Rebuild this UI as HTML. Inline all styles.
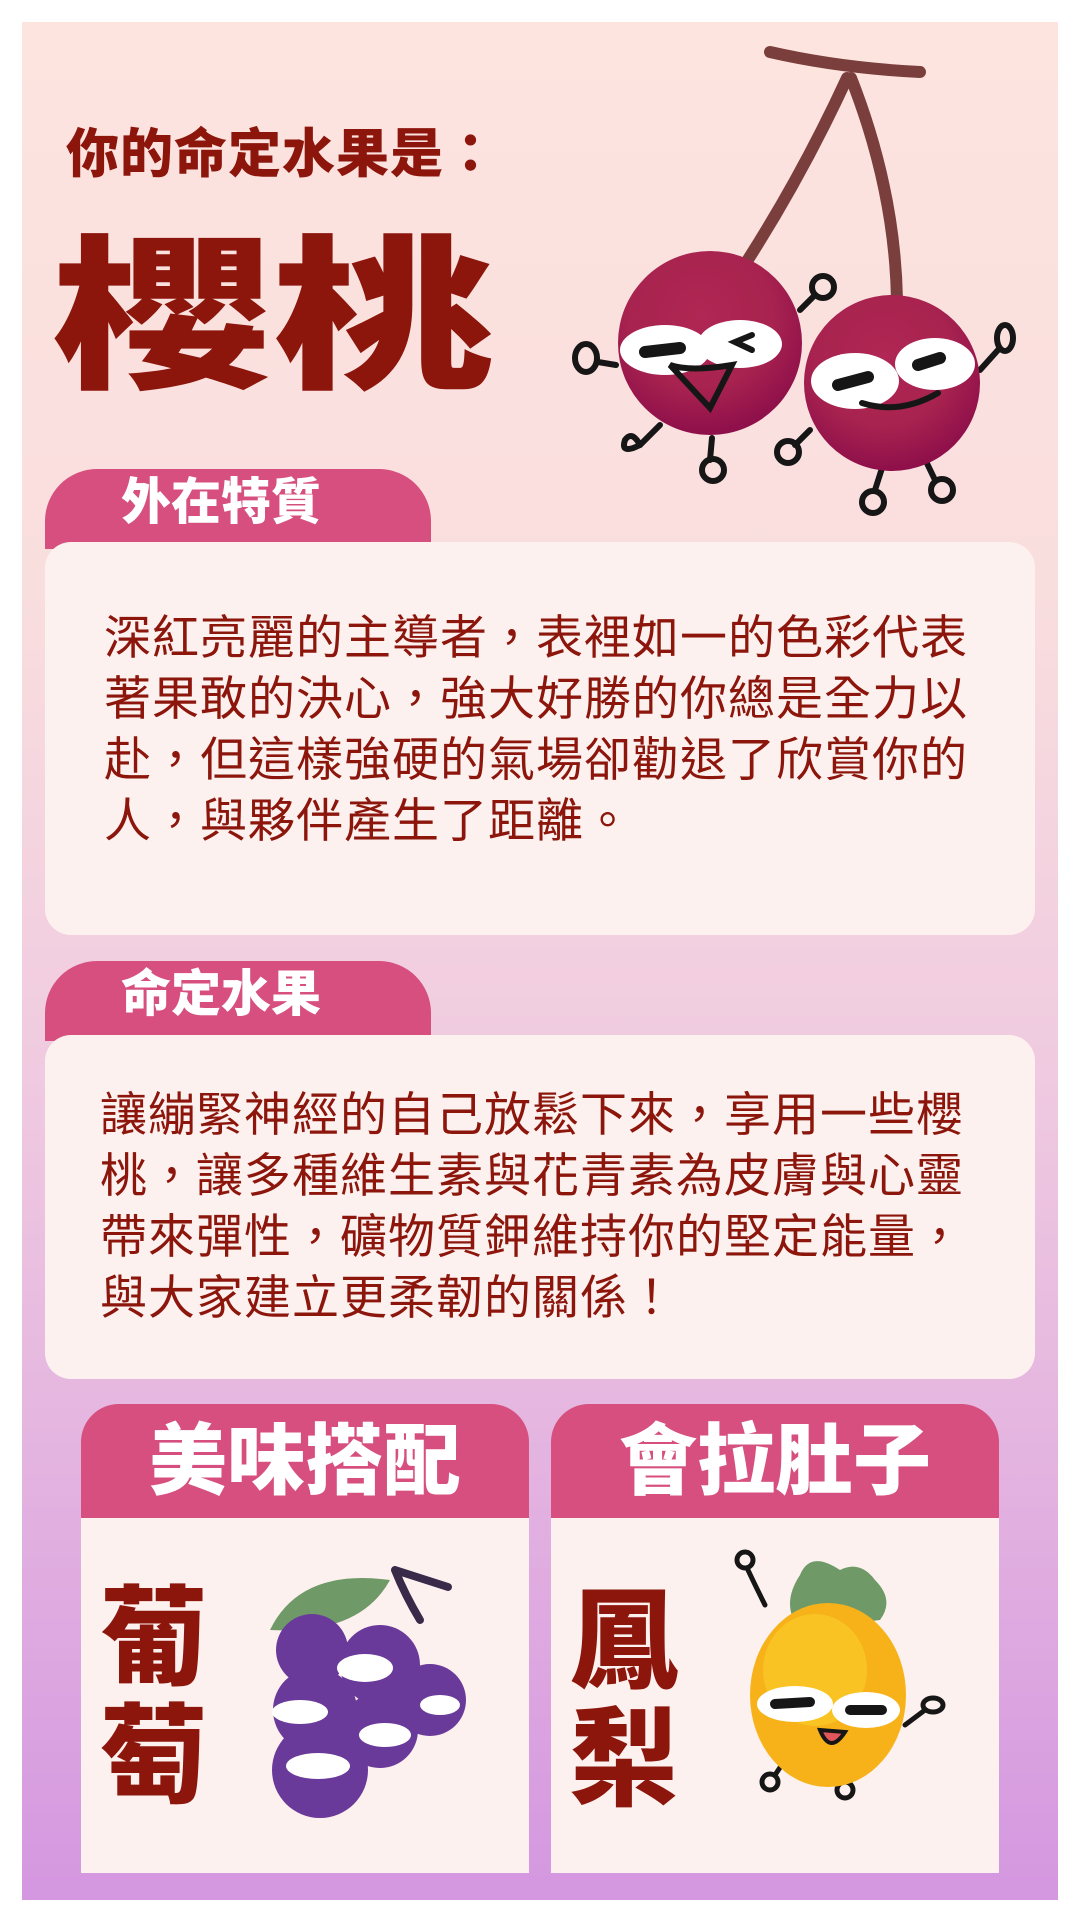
<!DOCTYPE html>
<html><head><meta charset="utf-8">
<style>
*{margin:0;padding:0;box-sizing:border-box}
body{width:1080px;height:1920px;background:#fff;position:relative;overflow:hidden;font-family:"Liberation Sans","Noto Sans CJK TC",sans-serif}
.abs{position:absolute}
#panel{left:22px;top:22px;width:1036px;height:1878px;background:linear-gradient(180deg,#fde4df 0%,#f9dede 30%,#f0cbe0 55%,#e3b2e0 78%,#d497e0 100%)}
.dark{color:#8c160c}
.tab{background:#d64f7e;color:#fff;font-weight:900;border-radius:52px 52px 0 0;white-space:nowrap}
.card{background:#fdf1ef;border-radius:26px}
.body{font-size:47px;line-height:61px;color:#8c160c;letter-spacing:1px}
</style></head>
<body>
<div id="panel" class="abs"></div>

<div class="abs dark" style="left:66px;top:112px;font-size:53px;font-weight:900;letter-spacing:1px">你的命定水果是：</div>
<div class="abs dark" style="left:52px;top:236px;font-size:166px;line-height:166px;font-weight:900;white-space:nowrap;transform:scaleX(1.33);transform-origin:0 0">櫻桃</div>

<svg class="abs" style="left:0;top:0" width="1080" height="560">
 <defs>
  <radialGradient id="cg" cx="45%" cy="35%" r="65%"><stop offset="0" stop-color="#b02654"/><stop offset="0.6" stop-color="#a8234f"/><stop offset="1" stop-color="#8e0f4a"/></radialGradient>
 </defs>
 <g fill="none" stroke="#7a3e3c" stroke-width="12" stroke-linecap="round">
  <path d="M770 52 Q840 68 920 72"/>
  <path d="M847 78 Q800 180 740 272"/>
  <path d="M851 78 Q895 190 897 300"/>
 </g>
 <g fill="none" stroke="#161616" stroke-width="6" stroke-linecap="round">
  <path d="M800 310 L815 295"/><circle cx="823" cy="287" r="11"/>
  <path d="M616 365 L598 362"/><ellipse cx="586" cy="358" rx="11" ry="14"/>
  <path d="M660 425 L640 445"/><path d="M640 445 Q620 455 625 440 Q632 430 640 445"/>
  <path d="M712 438 L710 460"/><circle cx="713" cy="470" r="11"/>
  <path d="M810 430 L795 445"/><circle cx="788" cy="452" r="11"/>
  <path d="M980 370 L998 350"/><ellipse cx="1005" cy="338" rx="8" ry="13"/>
  <path d="M883 465 L875 490"/><circle cx="873" cy="502" r="11"/>
  <path d="M923 455 L935 480"/><circle cx="942" cy="490" r="11"/>
 </g>
 <circle cx="710" cy="343" r="92" fill="url(#cg)"/>
 <circle cx="892" cy="383" r="88" fill="url(#cg)"/>
 <g fill="#fff">
  <ellipse cx="665" cy="350" rx="45" ry="25"/><ellipse cx="740" cy="344" rx="42" ry="24"/>
  <ellipse cx="855" cy="381" rx="44" ry="28"/><ellipse cx="935" cy="364" rx="40" ry="26"/>
 </g>
 <g fill="none" stroke="#161616" stroke-width="12" stroke-linecap="round">
  <path d="M645 352 L680 348"/><path d="M838 385 L868 377"/><path d="M918 365 L940 358"/>
 </g>
 <g fill="none" stroke="#161616" stroke-width="6" stroke-linecap="round">
  <path d="M752 335 L735 342 L752 350"/>
  <path d="M670 365 Q690 372 732 365 L710 408 Z"/>
  <path d="M862 403 Q900 415 938 393"/>
 </g>
</svg>

<div class="abs tab" style="left:45px;top:469px;width:386px;height:80px;font-size:50px;line-height:50px;padding:8px 0 0 76px">外在特質</div>
<div class="abs card" style="left:45px;top:542px;width:990px;height:393px"></div>
<div class="abs body" style="left:104px;top:607px;width:880px">深紅亮麗的主導者，表裡如一的色彩代表<br>著果敢的決心，強大好勝的你總是全力以<br>赴，但這樣強硬的氣場卻勸退了欣賞你的<br>人，與夥伴產生了距離。</div>

<div class="abs tab" style="left:45px;top:961px;width:386px;height:80px;font-size:50px;line-height:50px;padding:8px 0 0 76px">命定水果</div>
<div class="abs card" style="left:45px;top:1035px;width:990px;height:344px"></div>
<div class="abs body" style="left:100px;top:1084px;width:880px">讓繃緊神經的自己放鬆下來，享用一些櫻<br>桃，讓多種維生素與花青素為皮膚與心靈<br>帶來彈性，礦物質鉀維持你的堅定能量，<br>與大家建立更柔韌的關係！</div>

<div class="abs tab" style="left:81px;top:1404px;width:448px;height:115px;border-radius:38px 38px 0 0;font-size:78px;line-height:78px;text-align:center;padding-top:18px">美味搭配</div>
<div class="abs" style="left:81px;top:1518px;width:448px;height:355px;background:#fdf1ef"></div>
<div class="abs dark" style="left:100px;top:1580px;font-size:108px;line-height:118px;font-weight:900;width:110px">葡<br>萄</div>

<div class="abs tab" style="left:551px;top:1404px;width:448px;height:115px;border-radius:38px 38px 0 0;font-size:78px;line-height:78px;text-align:center;padding-top:18px">會拉肚子</div>
<div class="abs" style="left:551px;top:1518px;width:448px;height:355px;background:#fdf1ef"></div>
<div class="abs dark" style="left:570px;top:1583px;font-size:108px;line-height:118px;font-weight:900;width:110px">鳳<br>梨</div>

<svg class="abs" style="left:0;top:1380px" width="1080" height="500">
 <path d="M270 250 Q300 188 390 200 Q360 255 270 250Z" fill="#6f9a68"/>
 <path d="M395 190 Q405 215 420 240 M395 190 L448 207" stroke="#3a2a4a" stroke-width="8" fill="none" stroke-linecap="round"/>
 <g fill="#6a3a9a">
  <circle cx="312" cy="270" r="36"/><circle cx="380" cy="285" r="40"/><circle cx="430" cy="320" r="36"/>
  <circle cx="315" cy="330" r="42"/><circle cx="380" cy="350" r="38"/><circle cx="320" cy="390" r="48"/>
 </g>
 <g fill="#fff"><ellipse cx="365" cy="288" rx="28" ry="14"/><ellipse cx="300" cy="332" rx="28" ry="12"/><ellipse cx="385" cy="355" rx="26" ry="12"/><ellipse cx="318" cy="386" rx="32" ry="13"/><ellipse cx="440" cy="325" rx="20" ry="10"/></g>
</svg>

<svg class="abs" style="left:0;top:1380px" width="1080" height="500">
 <path d="M800 195 Q810 170 840 190 Q860 180 875 200 Q895 220 880 240 L800 250 Q780 225 800 195Z" fill="#6f9a68"/>
 <g fill="none" stroke="#161616" stroke-width="5" stroke-linecap="round">
  <path d="M765 225 Q755 205 748 190"/><circle cx="745" cy="180" r="8"/>
  <path d="M905 345 L925 330"/><ellipse cx="933" cy="325" rx="10" ry="7"/>
  <path d="M785 380 L775 395"/><circle cx="770" cy="402" r="8"/>
  <path d="M840 385 L845 400"/><circle cx="845" cy="410" r="8"/>
 </g>
 <ellipse cx="828" cy="315" rx="78" ry="92" fill="#f7b21a"/>
 <ellipse cx="815" cy="290" rx="52" ry="56" fill="#f8cf2a" opacity="0.6"/>
 <g fill="#fff"><ellipse cx="795" cy="324" rx="38" ry="18"/><ellipse cx="866" cy="330" rx="34" ry="18"/></g>
 <g stroke="#161616" stroke-width="10" stroke-linecap="round"><path d="M775 324 L810 322"/><path d="M850 330 L882 330"/></g>
 <path d="M820 350 Q830 375 845 352Z" fill="#e0565a" stroke="#161616" stroke-width="4"/>
</svg>
</body></html>
